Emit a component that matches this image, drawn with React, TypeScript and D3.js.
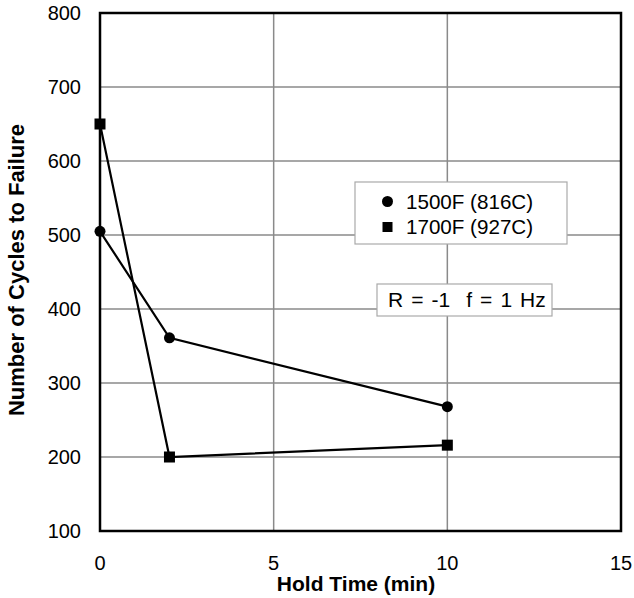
import React from "react";
import * as d3 from "d3";

const holdTime1500 = [0, 2, 10];
const cycles1500 = [505, 361, 268];
const holdTime1700 = [0, 2, 10];
const cycles1700 = [650, 200, 216];
const xTicks = [0, 5, 10, 15];
const yTicks = [100, 200, 300, 400, 500, 600, 700, 800];
const legendLabels = ["1500F (816C)", "1700F (927C)"];
const noteText = "R = -1  f = 1 Hz";
const xTitle = "Hold Time (min)";
const yTitle = "Number of Cycles to Failure";

export default function App() {
  const W = 634, H = 598;
  const left = 100, right = 621, top = 13, bottom = 531;
  const x = d3.scaleLinear().domain([0, 15]).range([left, right]);
  const y = d3.scaleLinear().domain([100, 800]).range([bottom, top]);
  const line = d3.line<[number, number]>().x(d => x(d[0])).y(d => y(d[1]));
  const s1: [number, number][] = holdTime1500.map((t, i) => [t, cycles1500[i]]);
  const s2: [number, number][] = holdTime1700.map((t, i) => [t, cycles1700[i]]);
  const font = "Arial, 'Liberation Sans', Helvetica, sans-serif";
  return (
    <svg width={W} height={H} style={{ position: "absolute", left: 0, top: 0, background: "#fff" }} fontFamily={font}>
      <rect x={0} y={0} width={W} height={H} fill="#fff" />
      {xTicks.filter(t => t > 0 && t < 15).map(t => (
        <line key={"gx" + t} x1={x(t)} x2={x(t)} y1={top} y2={bottom} stroke="#8a8a8a" strokeWidth={1.5} />
      ))}
      {yTicks.filter(t => t > 100 && t < 800).map(t => (
        <line key={"gy" + t} x1={left} x2={right} y1={y(t)} y2={y(t)} stroke="#8a8a8a" strokeWidth={1.5} />
      ))}
      <rect x={left} y={top} width={right - left} height={bottom - top} fill="none" stroke="#000" strokeWidth={2.5} />
      {yTicks.map(t => (
        <text key={"ty" + t} x={81} y={y(t)} dy="0.35em" textAnchor="end" fontSize={20} fill="#000">{t}</text>
      ))}
      {xTicks.map(t => (
        <text key={"tx" + t} x={x(t)} y={570} textAnchor="middle" fontSize={20} fill="#000">{t}</text>
      ))}
      <text x={356} y={591} textAnchor="middle" fontSize={21} fontWeight="bold" fill="#000">{xTitle}</text>
      <text transform={`translate(24,270) rotate(-90)`} textAnchor="middle" fontSize={22} fontWeight="bold" fill="#000">{yTitle}</text>
      <path d={line(s1) || ""} fill="none" stroke="#000" strokeWidth={2.2} />
      <path d={line(s2) || ""} fill="none" stroke="#000" strokeWidth={2.2} />
      {s1.map((d, i) => (
        <circle key={"c" + i} cx={x(d[0])} cy={y(d[1])} r={5.5} fill="#000" />
      ))}
      {s2.map((d, i) => (
        <rect key={"s" + i} x={x(d[0]) - 5.5} y={y(d[1]) - 5.5} width={11} height={11} fill="#000" />
      ))}
      <rect x={355} y={182} width={212} height={62} fill="#fff" stroke="#aaa" strokeWidth={1.2} />
      <circle cx={387.5} cy={201.5} r={5.5} fill="#000" />
      <text x={406} y={201.5} dy="0.35em" fontSize={20.6} fill="#000">{legendLabels[0]}</text>
      <rect x={382.5} y={222} width={10} height={10} fill="#000" />
      <text x={406} y={227} dy="0.35em" fontSize={20.6} fill="#000">{legendLabels[1]}</text>
      <rect x={377} y={284} width={175} height={32} fill="#fff" stroke="#aaa" strokeWidth={1.2} />
      <text x={388} y={300} dy="0.35em" fontSize={21} fill="#000" style={{ whiteSpace: "pre", wordSpacing: "2.2px" }}>{noteText}</text>
    </svg>
  );
}
